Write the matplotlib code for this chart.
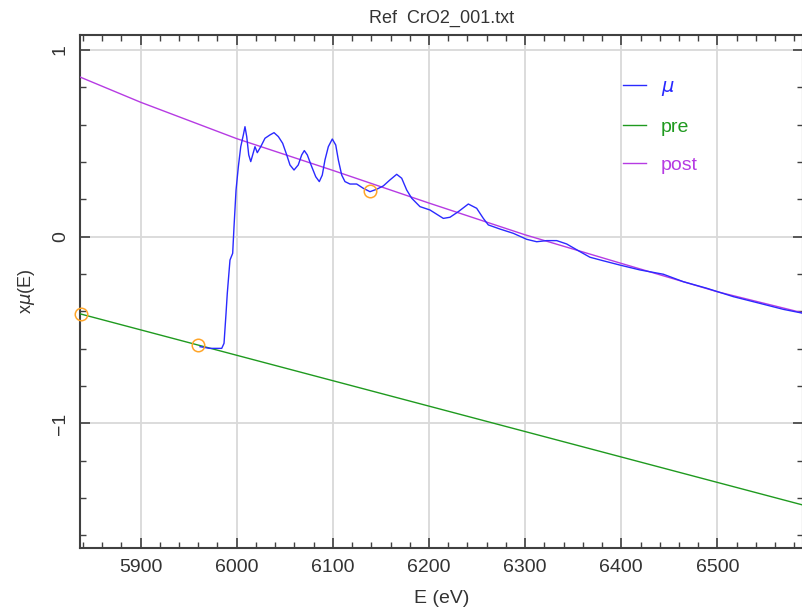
import numpy as np
import matplotlib
matplotlib.use("Agg")
import matplotlib.pyplot as plt
from matplotlib.ticker import MultipleLocator

# ---- data ----
# mu(E) trace
mu_e = [5961.9, 5972.0, 5984.4, 5986.8, 5988.9, 5990.2, 5993.0, 5995.8, 5997.2, 5999.3,
        6001.7, 6004.2, 6006.9, 6008.6, 6010.4, 6012.5, 6014.6, 6016.6, 6019.0, 6021.4,
        6025.0, 6029.4, 6034.6, 6038.8, 6043.3, 6047.8, 6052.0, 6055.4, 6059.6, 6064.0,
        6067.6, 6070.3, 6073.4, 6078.0, 6082.2, 6085.9, 6089.0, 6091.8, 6095.3, 6099.4,
        6103.0, 6105.7, 6109.2, 6112.6, 6117.8, 6124.8, 6131.7, 6138.6, 6145.6, 6152.5,
        6159.4, 6166.4, 6171.6, 6176.8, 6182.0, 6190.6, 6201.0, 6214.9, 6221.8, 6230.5,
        6240.9, 6249.6, 6256.5, 6261.7, 6273.8, 6287.7, 6301.6, 6312.0, 6322.4, 6332.8,
        6343.2, 6357.0, 6367.4, 6381.3, 6398.6, 6419.4, 6443.7, 6464.5, 6488.8, 6516.5,
        6544.2, 6568.5, 6589.0, 6600.0]
mu_v = [-0.589, -0.598, -0.598, -0.571, -0.410, -0.303, -0.125, -0.089, 0.054, 0.250,
        0.375, 0.482, 0.545, 0.589, 0.536, 0.438, 0.402, 0.438, 0.482, 0.450,
        0.482, 0.527, 0.545, 0.557, 0.536, 0.500, 0.438, 0.384, 0.357, 0.384,
        0.438, 0.461, 0.438, 0.375, 0.321, 0.295, 0.330, 0.411, 0.482, 0.523,
        0.491, 0.411, 0.330, 0.295, 0.282, 0.282, 0.259, 0.241, 0.254, 0.272,
        0.304, 0.334, 0.313, 0.250, 0.206, 0.161, 0.143, 0.098, 0.104, 0.134,
        0.175, 0.152, 0.098, 0.063, 0.041, 0.018, -0.014, -0.027, -0.021, -0.021,
        -0.039, -0.080, -0.110, -0.129, -0.152, -0.178, -0.201, -0.241, -0.276, -0.321,
        -0.357, -0.389, -0.410, -0.425]

# pre-edge line
pre_e = [5837, 6600]
pre_v = [-0.413, -1.452]

# post-edge line
post_e = [5830, 5900, 6000, 6100, 6200, 6300, 6400, 6500, 6600]
post_v = [0.870, 0.720, 0.525, 0.355, 0.180, 0.010, -0.143, -0.295, -0.422]

# marked points (pre1, pre2, norm1)
mark_e = [5838, 5960, 6139]
mark_v = [-0.413, -0.582, 0.245]

# ---- plot ----
plt.rcParams['font.family'] = ['Liberation Sans', 'DejaVu Sans']
plt.rcParams['mathtext.fontset'] = 'dejavusans'

fig = plt.figure(figsize=(8.03, 6.15), dpi=100)
ax = fig.add_axes([80 / 803, 67 / 615, 723 / 803, 513 / 615])

ax.plot(mu_e, mu_v, color='#2a2aff', lw=1.0, label=r'$\mu$', zorder=4)
ax.plot(pre_e, pre_v, color='#1f9a1f', lw=1.0, label='pre', zorder=3)
ax.plot(post_e, post_v, color='#b63be3', lw=1.0, label='post', zorder=3)
ax.plot(mark_e, mark_v, ls='none', marker='o', ms=9, mfc='none', mec='#ffa528',
        mew=1.1, clip_on=False, zorder=5)

ax.set_xlim(5837, 6589)
ax.set_ylim(-1.667, 1.08)

ax.xaxis.set_major_locator(MultipleLocator(100))
ax.xaxis.set_minor_locator(MultipleLocator(20))
ax.yaxis.set_major_locator(MultipleLocator(1))
ax.yaxis.set_minor_locator(MultipleLocator(0.2))
ax.tick_params(which='both', direction='in', top=True, right=True,
               colors='#404040', labelcolor='#333333', labelsize=14)
ax.tick_params(which='major', length=7, width=1.2)
ax.tick_params(which='minor', length=4, width=1.0)
ax.tick_params(axis='x', pad=8)
ax.tick_params(axis='y', pad=8)
for lab in ax.get_yticklabels():
    lab.set_rotation(90)
    lab.set_va('center')

for s in ax.spines.values():
    s.set_color('#404040')
    s.set_linewidth(1.5)

ax.grid(True, which='major', color='#d9d9d9', lw=1.3)
ax.set_axisbelow(True)

ax.set_xlabel('E (eV)', fontsize=14, color='#333333', labelpad=10)
ax.set_ylabel(r'x$\mu$(E)', fontsize=13, color='#333333', labelpad=11)
ax.set_title('Ref  CrO2_001.txt', fontsize=13, color='#333333', pad=9)

ax.legend(loc='upper left', bbox_to_anchor=(0.727, 0.95), frameon=False,
          labelcolor='linecolor', fontsize=14, handlelength=1.2,
          handletextpad=0.75, labelspacing=1.05)

fig.savefig('out.png', dpi=100)
